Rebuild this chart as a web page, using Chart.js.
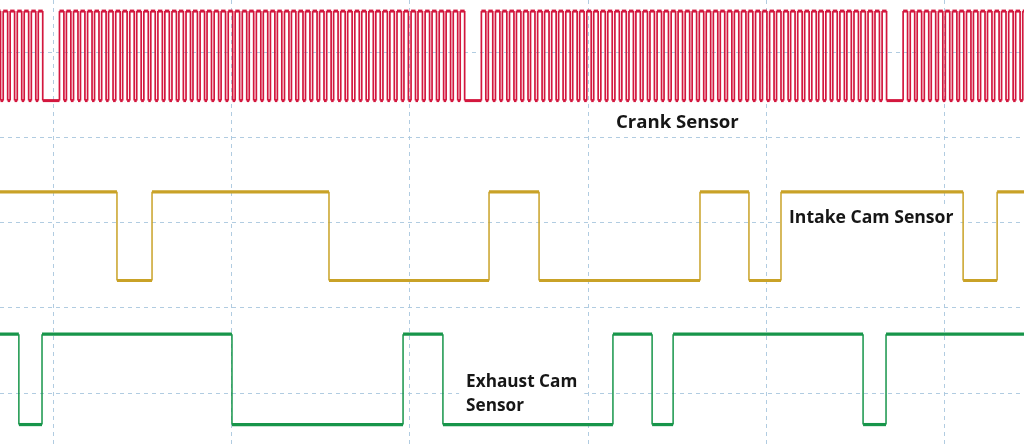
<!DOCTYPE html>
<html>
<head>
<meta charset="utf-8">
<script src="https://cdn.jsdelivr.net/npm/chart.js@4/dist/chart.umd.min.js"></script>
<style>
  html, body { margin: 0; padding: 0; background: #ffffff; }
  #wrap { width: 1024px; height: 444px; }
</style>
</head>
<body>
<div id="wrap"><canvas id="c" width="1024" height="444"></canvas></div>
<script>
// ---- Data (time in ms, 10 ms per division) ----
const timeGrid = [0, 10, 20, 30, 40, 50];          // vertical division lines
const levelGrid = [0, 1, 2, 3, 4];                   // horizontal division lines

// Crank sensor (60-2 trigger wheel): rising edge of each tooth, ms
const crankRise = [
  -3.25, -2.85, -2.46, -2.06, -1.67, -1.27, -0.88,
  0.31, 0.70, 1.10, 1.49, 1.89, 2.28, 2.68, 3.07, 3.47, 3.86,
  4.26, 4.65, 5.05, 5.44, 5.84, 6.23, 6.63, 7.02, 7.42, 7.81,
  8.21, 8.60, 9.00, 9.39, 9.79, 10.18, 10.58, 10.97, 11.37, 11.76,
  12.16, 12.55, 12.95, 13.34, 13.74, 14.13, 14.53, 14.92, 15.32, 15.71,
  16.11, 16.50, 16.90, 17.29, 17.69, 18.08, 18.48, 18.87, 19.27, 19.66,
  20.06, 20.45, 20.85, 21.24, 21.64, 22.03, 22.43, 22.82,
  24.01, 24.40, 24.80, 25.19, 25.59, 25.98, 26.38, 26.77, 27.17, 27.56,
  27.96, 28.35, 28.75, 29.14, 29.53, 29.93, 30.32, 30.72, 31.11, 31.51,
  31.90, 32.30, 32.69, 33.09, 33.48, 33.88, 34.27, 34.67, 35.06, 35.46,
  35.85, 36.25, 36.64, 37.04, 37.43, 37.83, 38.22, 38.62, 39.01, 39.41,
  39.80, 40.20, 40.59, 40.99, 41.38, 41.78, 42.17, 42.57, 42.96, 43.36,
  43.75, 44.15, 44.54, 44.94, 45.33, 45.73, 46.12, 46.52,
  47.70, 48.10, 48.49, 48.89, 49.28, 49.68, 50.07, 50.47, 50.86, 51.26,
  51.65, 52.05, 52.44, 52.84, 53.23, 53.63, 54.02, 54.42
];
const crankPulseWidth = 0.25;           // ms high per tooth
const crankLevels = [3.43, 4.48];       // [low, high]

// Intake cam: starts high, toggles at each edge (ms)
const intakeEdges = [3.54, 5.51, 15.45, 24.44, 27.25, 36.29, 39.04, 40.84, 51.07, 52.98];
const intakeLevels = [1.32, 2.36];

// Exhaust cam: starts high, toggles at each edge (ms)
const exhaustEdges = [-1.97, -0.67, 10.00, 19.61, 21.85, 31.40, 33.60, 34.78, 45.45, 46.74];
const exhaustLevels = [-0.37, 0.69];

const seriesNames = ["Crank Sensor", "Intake Cam Sensor", "Exhaust Cam Sensor"];

// ---- view window ----
const xMin = -3.03, xMax = 54.49;
const yMin = -0.598, yMax = 4.61;

function toggleTrace(edges, levels, startHigh) {
  let state = startHigh ? 1 : 0;
  const pts = [{x: xMin - 1, y: levels[state]}];
  edges.forEach(e => {
    pts.push({x: e, y: levels[state]});
    state = 1 - state;
    pts.push({x: e, y: levels[state]});
  });
  pts.push({x: xMax + 1, y: levels[state]});
  return pts;
}
function crankTrace() {
  const [lo, hi] = crankLevels;
  const pts = [{x: xMin - 1, y: lo}];
  crankRise.forEach(r => {
    pts.push({x: r, y: lo}, {x: r, y: hi}, {x: r + crankPulseWidth, y: hi}, {x: r + crankPulseWidth, y: lo});
  });
  pts.push({x: xMax + 1, y: lo});
  return pts;
}

const segWidth = (flat, vert) => ({
  borderWidth: ctx => (ctx.p0.parsed.x === ctx.p1.parsed.x ? vert : flat)
});

const labelPlugin = {
  id: 'labels',
  beforeDatasetsDraw(chart) {
    const {ctx, scales: {x, y}} = chart;
    const items = [
      {lines: ["Crank Sensor"], x: 31.57, y: 3.11, size: 18.6},
      {lines: ["Intake Cam Sensor"], x: 41.29, y: 2.0, size: 17.6},
      {lines: ["Exhaust Cam", "Sensor"], x: 23.15, y: 0.07, size: 17.2}
    ];
    ctx.save();
    ctx.textBaseline = 'alphabetic';
    items.forEach(it => {
      ctx.font = "bold " + it.size + "px 'Open Sans', 'Noto Sans', sans-serif";
      const px = x.getPixelForValue(it.x);
      const py = y.getPixelForValue(it.y);
      const w = Math.max(...it.lines.map(l => ctx.measureText(l).width));
      ctx.fillStyle = '#ffffff';
      ctx.fillRect(px - 7, py - 17, w + 14, 24 * (it.lines.length - 1) + 24);
      ctx.fillStyle = '#161616';
      it.lines.forEach((l, i) => ctx.fillText(l, px, py + 24 * i));
    });
    ctx.restore();
  }
};

const gridColor = 'rgba(168,198,222,0.9)';

new Chart(document.getElementById('c'), {
  type: 'line',
  data: {
    datasets: [
      {label: seriesNames[0], data: crankTrace(), borderColor: '#d3173e', borderWidth: 1.7,
       segment: segWidth(3, 1.7), pointRadius: 0, tension: 0},
      {label: seriesNames[1], data: toggleTrace(intakeEdges, intakeLevels, true), borderColor: '#c9a227',
       borderWidth: 3, segment: segWidth(3.2, 1.5), pointRadius: 0, tension: 0},
      {label: seriesNames[2], data: toggleTrace(exhaustEdges, exhaustLevels, true), borderColor: '#17954a',
       borderWidth: 3, segment: segWidth(3.2, 1.5), pointRadius: 0, tension: 0}
    ]
  },
  options: {
    responsive: false,
    animation: false,
    layout: {padding: 0},
    plugins: {legend: {display: false}, tooltip: {enabled: false}},
    scales: {
      x: {
        type: 'linear', min: xMin, max: xMax,
        afterBuildTicks: s => { s.ticks = timeGrid.map(v => ({value: v})); },
        ticks: {display: false},
        border: {display: false, dash: [4, 4]},
        grid: {color: gridColor, lineWidth: 1, drawTicks: false}
      },
      y: {
        type: 'linear', min: yMin, max: yMax,
        afterBuildTicks: s => { s.ticks = levelGrid.map(v => ({value: v})); },
        ticks: {display: false},
        border: {display: false, dash: [4, 4]},
        grid: {color: gridColor, lineWidth: 1, drawTicks: false}
      }
    }
  },
  plugins: [labelPlugin]
});
</script>
</body>
</html>
